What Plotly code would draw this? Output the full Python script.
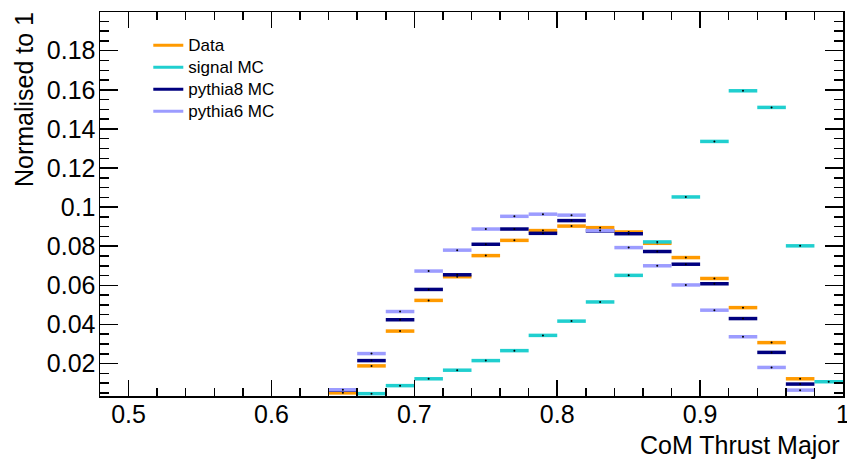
import plotly.graph_objects as go

# bin centres (bin width 0.02)
bin_centres = [0.65, 0.67, 0.69, 0.71, 0.73, 0.75, 0.77, 0.79, 0.81, 0.83,
               0.85, 0.87, 0.89, 0.91, 0.93, 0.95, 0.97, 0.99]
bin_half_width = 0.01

data_vals = [0.0050, 0.0188, 0.0366, 0.0523, 0.0644, 0.0752, 0.0830, 0.0880, 0.0903,
             0.0895, 0.0873, 0.0815, 0.0742, 0.0635, 0.0486, 0.0307, 0.0122, None]
signal_vals = [None, 0.0046, 0.0087, 0.0122, 0.0166, 0.0215, 0.0266, 0.0344, 0.0417,
               0.0515, 0.0651, 0.0822, 0.1052, 0.1336, 0.1595, 0.1510, 0.0802, 0.0107]
pythia8_vals = [0.0064, 0.0215, 0.0424, 0.0579, 0.0654, 0.0810, 0.0888, 0.0866, 0.0931,
                0.0878, 0.0864, 0.0773, 0.0708, 0.0608, 0.0430, 0.0257, 0.0095, None]
pythia6_vals = [0.0066, 0.0251, 0.0466, 0.0673, 0.0780, 0.0888, 0.0953, 0.0964, 0.0959,
                0.0880, 0.0793, 0.0700, 0.0602, 0.0473, 0.0337, 0.0180, 0.0064, None]

series_names = ["Data", "signal MC", "pythia8 MC", "pythia6 MC"]
series_colors = ["#FF9A00", "#20CFCF", "#00007F", "#9C9CFF"]
series_values = [data_vals, signal_vals, pythia8_vals, pythia6_vals]

x_tickvals = [0.5, 0.6, 0.7, 0.8, 0.9, 1.0]
x_ticktext = ["0.5", "0.6", "0.7", "0.8", "0.9", "1"]
y_tickvals = [0.02, 0.04, 0.06, 0.08, 0.10, 0.12, 0.14, 0.16, 0.18]
y_ticktext = ["0.02", "0.04", "0.06", "0.08", "0.1", "0.12", "0.14", "0.16", "0.18"]

FONT = "Liberation Sans, Arial, Helvetica, sans-serif"

fig = go.Figure()

for name, col, vals in zip(series_names, series_colors, series_values):
    fig.add_trace(go.Scatter(
        x=bin_centres, y=vals, mode="markers",
        marker=dict(size=2, color="black"),
        error_x=dict(type="constant", value=bin_half_width, thickness=3.5,
                     width=0, color=col),
        showlegend=False, hoverinfo="skip", cliponaxis=True,
    ))

for name, col in zip(series_names, series_colors):
    fig.add_trace(go.Scatter(
        x=[None], y=[None], mode="lines",
        name="<span style='font-size:17px'>" + name + "</span>",
        line=dict(color=col, width=3),
    ))

axis_common = dict(
    showgrid=False, zeroline=False, showline=True, linecolor="black",
    linewidth=1.5, mirror="allticks", ticks="inside", tickcolor="black",
    tickwidth=1.5, tickfont=dict(family=FONT, size=25, color="black"),
    automargin=False, ticklabeloverflow="allow",
)

fig.update_layout(
    width=847, height=462,
    margin=dict(l=100, r=4, t=12, b=66),
    paper_bgcolor="white", plot_bgcolor="white",
    font=dict(family=FONT, color="black"),
    xaxis=dict(range=[0.48, 1.0], tickvals=x_tickvals, ticktext=x_ticktext,
               ticklen=16, ticklabelstandoff=-5,
               minor=dict(dtick=0.02, tick0=0.5, ticklen=8, tickwidth=1.5,
                          tickcolor="black", ticks="inside", showgrid=False),
               **axis_common),
    yaxis=dict(range=[0.0034, 0.1998], tickvals=y_tickvals, ticktext=y_ticktext,
               ticklen=18, ticklabelstandoff=-2,
               minor=dict(dtick=0.005, tick0=0, ticklen=9, tickwidth=1.5,
                          tickcolor="black", ticks="inside", showgrid=False),
               **axis_common),
    legend=dict(x=0.065, y=0.955, xanchor="left", yanchor="top",
                bgcolor="rgba(0,0,0,0)", font=dict(family=FONT, size=14.6),
                itemwidth=30, traceorder="normal"),
    annotations=[
        dict(text="CoM Thrust Major", xref="paper", yref="paper",
             x=0.999, y=-0.086, xanchor="right", yanchor="top", showarrow=False,
             font=dict(family=FONT, size=25, color="black")),
        dict(text="Normalised to 1", xref="paper", yref="paper",
             x=-0.103, y=1.005, xanchor="center", yanchor="top", showarrow=False,
             textangle=-90, font=dict(family=FONT, size=25, color="black")),
    ],
)

fig.write_html(
    "out.html",
    config={"displayModeBar": False, "staticPlot": True},
    post_script="document.body.style.margin='0';"
                "document.body.style.overflow='hidden';"
                "document.documentElement.style.overflow='hidden';",
)
